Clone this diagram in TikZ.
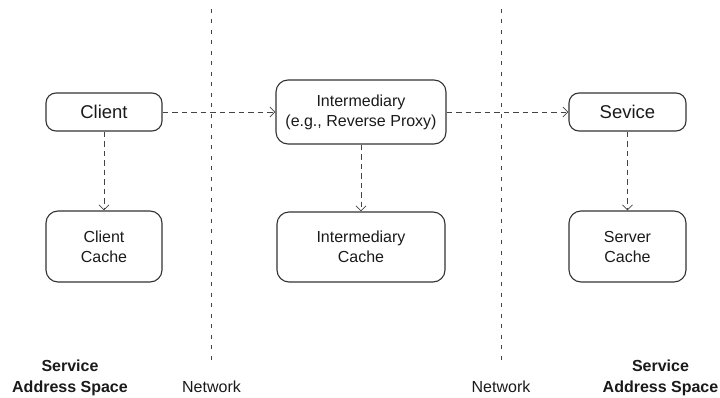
\documentclass[tikz,border=0pt]{standalone}
\usepackage{fontspec}
\setmainfont{Liberation Sans}
\usetikzlibrary{arrows.meta}
\definecolor{edge}{HTML}{333333}
\definecolor{sep}{HTML}{444444}
\definecolor{txt}{HTML}{1A1A1A}
\tikzset{
  box/.style={draw=edge, line width=1.1pt, rounded corners=10pt, inner sep=0pt, align=center, text=txt},
  bigtxt/.style={font=\fontsize{18.5}{22}\selectfont},
  smalltxt/.style={font=\fontsize{16}{20}\selectfont},
  flow/.style={draw=sep, line width=0.8pt, dash pattern=on 5.5pt off 4pt, -{Straight Barb[length=5pt,width=10pt]}},
  separator/.style={draw=sep, line width=0.8pt, dash pattern=on 4pt off 6.5pt},
  label/.style={text=txt, align=center, inner sep=0pt},
}
\begin{document}
\begin{tikzpicture}[x=1pt,y=-1pt]
\useasboundingbox (0,0) rectangle (720,398);
% separators
\coordinate (s1t) at (211.5,9);
\coordinate (s1b) at (211.5,365);
\coordinate (s2t) at (501,9);
\coordinate (s2b) at (501,365);
\draw[separator] (s1t) -- (s1b);
\draw[separator] (s2t) -- (s2b);
% boxes
\node[box, bigtxt, minimum width=116pt, minimum height=38pt] (client) at (104,112) {Client};
\node[box, smalltxt, minimum width=170pt, minimum height=64pt, rounded corners=12pt] (inter) at (361,112) {Intermediary\\(e.g., Reverse Proxy)};
\node[box, bigtxt, minimum width=117pt, minimum height=38pt] (service) at (627.5,112) {Sevice};
\node[box, smalltxt, minimum width=116pt, minimum height=71pt, rounded corners=12pt] (ccache) at (104,246.5) {Client\\Cache};
\node[box, smalltxt, minimum width=168pt, minimum height=70pt, rounded corners=12pt] (icache) at (361,247) {Intermediary\\Cache};
\node[box, smalltxt, minimum width=117pt, minimum height=71pt, rounded corners=12pt] (scache) at (627.5,246.5) {Server\\Cache};
% connectors
\draw[flow] (client) -- (inter);
\draw[flow] (inter) -- (service);
\draw[flow] (client) -- (ccache);
\draw[flow] (inter) -- (icache);
\draw[flow] (service) -- (scache);
% labels
\node[label, font=\fontsize{16}{21}\selectfont\bfseries] (lsas) at (70,378) {Service\\Address Space};
\node[label, font=\fontsize{16}{21}\selectfont\bfseries] (rsas) at (660.5,378) {Service\\Address Space};
\node[label, font=\fontsize{16}{21}\selectfont, anchor=base] (net1) at (211.5,392.7) {Network};
\node[label, font=\fontsize{16}{21}\selectfont, anchor=base] (net2) at (501,392.7) {Network};
\end{tikzpicture}
\end{document}
